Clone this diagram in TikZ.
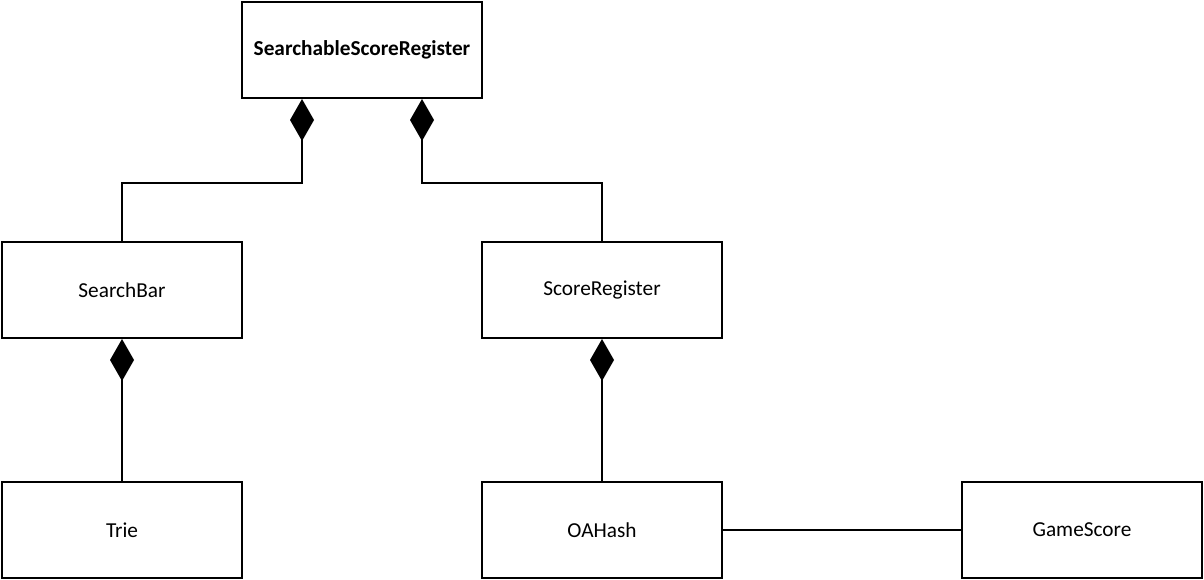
\documentclass[tikz,border=0pt]{standalone}
\usepackage{fontspec}
\setmainfont{Carlito}
\usetikzlibrary{arrows.meta}
\begin{document}
\begin{tikzpicture}[x=1pt,y=-1pt,
  cls/.style={draw=black,line width=2pt,minimum width=240pt,minimum height=96pt,inner sep=0pt,font=\fontsize{21.3}{24}\selectfont,fill=white},
  comp/.style={line width=2pt,{Diamond[length=42pt,width=24pt]}-},
  assoc/.style={line width=2pt}]
\fill[white] (0,0) rectangle (1204,580);
\useasboundingbox (0,0) rectangle (1204,580);
\node[cls,font=\fontsize{21.3}{24}\selectfont\bfseries] (ssr) at (362,50) {SearchableScoreRegister};
\node[cls] (sb) at (122,290) {SearchBar};
\node[cls] (sr) at (602,290) {ScoreRegister};
\node[cls] (trie) at (122,530) {Trie};
\node[cls] (oa) at (602,530) {OAHash};
\node[cls] (gs) at (1082,530) {GameScore};
\draw[comp] ([xshift=-60pt]ssr.south) -- ++(0,84) -| (sb.north);
\draw[comp] ([xshift=60pt]ssr.south) -- ++(0,84) -| (sr.north);
\draw[comp] (sb.south) -- (trie.north);
\draw[comp] (sr.south) -- (oa.north);
\draw[assoc] (oa.east) -- (gs.west);
\end{tikzpicture}
\end{document}
